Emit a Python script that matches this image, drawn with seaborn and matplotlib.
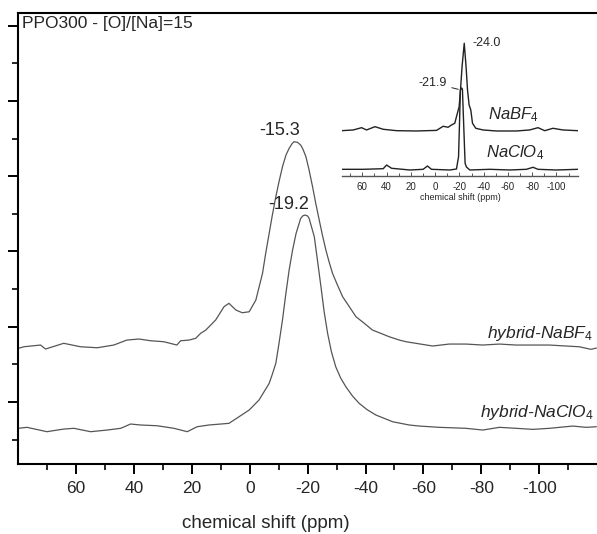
import numpy as np
import pandas as pd
import seaborn as sns
import matplotlib.pyplot as plt
from matplotlib.ticker import FixedLocator

# main spectra (ppm, intensity in arbitrary units)
bf4_ppm = [80.0, 78.1, 72.3, 70.6, 64.3, 58.5, 52.7, 47.0, 42.5, 38.3, 34.3, 29.7, 25.2, 23.9,
           21.0, 18.7, 17.0, 15.2, 12.4, 11.8, 8.9, 7.2, 4.8, 2.6, 0.2, -2.1, -4.4, -5.5, -6.7,
           -7.8, -9.0, -10.1, -11.3, -12.5, -13.6, -14.7, -15.3, -16.5, -17.6, -18.4, -19.4,
           -20.5, -21.7, -22.8, -24.0, -25.1, -26.3, -27.4, -28.6, -30.3, -32.1, -34.4, -36.7,
           -39.6, -42.4, -45.3, -48.2, -51.7, -54.0, -57.4, -63.2, -68.9, -74.7, -80.5, -86.3,
           -92.0, -97.8, -103.6, -109.3, -113.9, -117.9, -119.8]
bf4_int = [1.713, 1.734, 1.757, 1.704, 1.780, 1.734, 1.721, 1.757, 1.823, 1.837, 1.814, 1.801,
           1.757, 1.814, 1.823, 1.846, 1.912, 1.956, 2.066, 2.089, 2.266, 2.311, 2.222, 2.186,
           2.199, 2.355, 2.709, 2.975, 3.240, 3.483, 3.726, 3.926, 4.125, 4.280, 4.369, 4.436,
           4.457, 4.449, 4.413, 4.356, 4.258, 4.081, 3.859, 3.639, 3.417, 3.218, 3.019, 2.863,
           2.709, 2.554, 2.398, 2.266, 2.133, 2.045, 1.956, 1.912, 1.867, 1.823, 1.801, 1.780,
           1.744, 1.770, 1.770, 1.757, 1.770, 1.757, 1.757, 1.757, 1.744, 1.734, 1.700, 1.717]

clo4_ppm = [80.0, 77.0, 70.1, 64.3, 60.8, 55.0, 49.3, 44.6, 41.2, 37.7, 32.0, 26.2, 21.6, 18.2,
            14.1, 7.2, 3.7, 0.2, -3.2, -6.7, -7.8, -9.0, -10.1, -11.3, -12.4, -13.6, -14.8,
            -16.0, -17.6, -18.4, -19.2, -20.0, -20.5, -22.3, -23.4, -24.6, -25.7, -26.9, -28.2,
            -29.7, -31.4, -33.2, -35.5, -37.8, -40.5, -43.6, -49.4, -55.1, -58.6, -65.5, -74.7,
            -80.5, -86.3, -92.0, -97.8, -103.6, -111.6, -116.2, -119.8]
clo4_int = [0.651, 0.664, 0.606, 0.641, 0.651, 0.606, 0.628, 0.651, 0.708, 0.695, 0.685, 0.651,
            0.606, 0.672, 0.695, 0.717, 0.805, 0.894, 1.027, 1.248, 1.370, 1.514, 1.780, 2.089,
            2.420, 2.753, 3.020, 3.240, 3.440, 3.475, 3.483, 3.470, 3.440, 3.195, 2.880, 2.531,
            2.200, 1.912, 1.670, 1.469, 1.320, 1.203, 1.080, 0.983, 0.900, 0.827, 0.738, 0.695,
            0.681, 0.664, 0.651, 0.628, 0.664, 0.651, 0.637, 0.651, 0.681, 0.664, 0.672]

# inset spectra (pure salts)
ins_bf4_ppm = [77.0, 67.5, 60.6, 56.5, 49.6, 42.8, 31.8, 15.3, -1.2, -6.6, -10.7, -13.5, -16.2,
               -17.6, -19.8, -20.9, -22.2, -24.0, -25.5, -26.7, -28.0, -29.4, -30.8, -33.5,
               -39.5, -50.5, -67.0, -77.9, -84.8, -90.3, -97.1, -105.3, -117.7]
ins_bf4_int = [1.192, 1.211, 1.271, 1.211, 1.297, 1.229, 1.192, 1.184, 1.200, 1.308, 1.282,
               1.342, 1.387, 1.561, 1.824, 2.263, 2.876, 3.492, 2.876, 2.263, 1.868, 1.737,
               1.387, 1.255, 1.211, 1.184, 1.184, 1.211, 1.271, 1.192, 1.255, 1.211, 1.192]

ins_clo4_ppm = [77.0, 59.3, 42.8, 40.0, 35.9, 20.8, 9.9, 6.3, 3.0, -12.1, -17.6, -19.3, -20.1,
                -20.8, -21.9, -22.5, -23.2, -24.0, -24.7, -25.8, -28.6, -45.0, -61.4, -75.2,
                -80.7, -84.8, -99.9, -117.7]
ins_clo4_int = [0.176, 0.176, 0.192, 0.289, 0.203, 0.158, 0.176, 0.263, 0.176, 0.158, 0.184,
                0.508, 1.387, 2.263, 2.316, 2.282, 1.650, 0.947, 0.334, 0.237, 0.158, 0.176,
                0.158, 0.176, 0.229, 0.176, 0.158, 0.176]

main_ticks = [60, 40, 20, 0, -20, -40, -60, -80, -100]
minor_ticks = [70, 50, 30, 10, -10, -30, -50, -70, -90, -110]

sns.set_style('ticks')
plt.rcParams['font.family'] = ['Liberation Sans', 'DejaVu Sans']
plt.rcParams['axes.unicode_minus'] = False
plt.rcParams['mathtext.fontset'] = 'custom'
plt.rcParams['mathtext.rm'] = 'Liberation Sans'
plt.rcParams['mathtext.it'] = 'Liberation Sans:italic'

W, H = 597, 534
fig = plt.figure(figsize=(W / 100, H / 100), dpi=100)
ax = fig.add_axes([18.3 / W, (H - 464) / H, (W - 18.3) / W, (464 - 12.7) / H])

main = pd.DataFrame({'ppm': bf4_ppm, 'I': bf4_int})
sns.lineplot(data=main, x='ppm', y='I', ax=ax, color='#555555', lw=0.9, sort=False)
main2 = pd.DataFrame({'ppm': clo4_ppm, 'I': clo4_int})
sns.lineplot(data=main2, x='ppm', y='I', ax=ax, color='#555555', lw=0.9, sort=False)

ax.set_xlim(80, -120)
ax.set_ylim(0.177, 6.171)
ax.xaxis.set_major_locator(FixedLocator(main_ticks))
ax.xaxis.set_minor_locator(FixedLocator(minor_ticks))
ax.yaxis.set_major_locator(FixedLocator([1, 2, 3, 4, 5, 6]))
ax.yaxis.set_minor_locator(FixedLocator([0.5, 1.5, 2.5, 3.5, 4.5, 5.5]))
ax.set_yticklabels([])
ax.set_ylabel('')
ax.tick_params(axis='both', which='major', direction='out', length=7, width=1.4,
               labelsize=12.5, pad=5, color='black')
ax.tick_params(axis='both', which='minor', direction='out', length=4, width=1.4)
for s in ['left', 'bottom', 'top']:
    ax.spines[s].set_linewidth(1.5)
    ax.spines[s].set_color('black')
ax.spines['right'].set_visible(False)

ax.set_xlabel('chemical shift (ppm)', fontsize=13.5)
ax.xaxis.set_label_coords(0.428, -0.113)
ax.xaxis.label.set_va('top')

ax.text(0.006, 0.993, 'PPO300 - [O]/[Na]=15', transform=ax.transAxes, fontsize=12.5,
        ha='left', va='top')
ax.text(-10.2, 4.60, '-15.3', fontsize=13, ha='center', va='center')
ax.text(-13.3, 3.62, '-19.2', fontsize=13, ha='center', va='center')
ax.text(-118.5, 1.846, 'hybrid-NaBF$_4$', fontsize=12.5, style='italic', ha='right',
        va='baseline')
ax.text(-118.8, 0.805, 'hybrid-NaClO$_4$', fontsize=12.5, style='italic', ha='right',
        va='baseline')

# inset
axi = fig.add_axes([341.7 / W, (H - 176) / H, (578.3 - 341.7) / W, 138 / H])
axi.patch.set_alpha(0)
ins1 = pd.DataFrame({'ppm': ins_bf4_ppm, 'I': ins_bf4_int})
sns.lineplot(data=ins1, x='ppm', y='I', ax=axi, color='#222222', lw=1.0, sort=False)
ins2 = pd.DataFrame({'ppm': ins_clo4_ppm, 'I': ins_clo4_int})
sns.lineplot(data=ins2, x='ppm', y='I', ax=axi, color='#222222', lw=1.0, sort=False)
axi.set_xlim(77, -118)
axi.set_ylim(0, 3.63)
axi.xaxis.set_major_locator(FixedLocator(main_ticks))
axi.xaxis.set_minor_locator(FixedLocator(minor_ticks))
axi.set_yticks([])
axi.set_ylabel('')
for s in ['left', 'top', 'right']:
    axi.spines[s].set_visible(False)
axi.spines['bottom'].set_linewidth(1.0)
axi.spines['bottom'].set_color('#555555')
axi.tick_params(axis='x', which='major', direction='in', length=3, width=0.7,
                labelsize=7, pad=4, color='#555555')
axi.tick_params(axis='x', which='minor', direction='in', length=2, width=0.7, color='#555555')
axi.set_xlabel('chemical shift (ppm)', fontsize=6.5, labelpad=1)

axi.text(-31.0, 3.50, '-24.0', fontsize=9, ha='left', va='center')
axi.annotate('-21.9', xy=(-19.0, 2.28), xytext=(-10.0, 2.45), fontsize=9, ha='right',
             va='center', arrowprops=dict(arrowstyle='-', color='#222222', lw=0.7,
                                          shrinkA=1, shrinkB=0))
axi.text(-43.6, 1.50, 'NaBF$_4$', fontsize=12, style='italic', ha='left', va='baseline')
axi.text(-42.3, 0.50, 'NaClO$_4$', fontsize=12, style='italic', ha='left', va='baseline')

fig.savefig('out.png', dpi=100)
